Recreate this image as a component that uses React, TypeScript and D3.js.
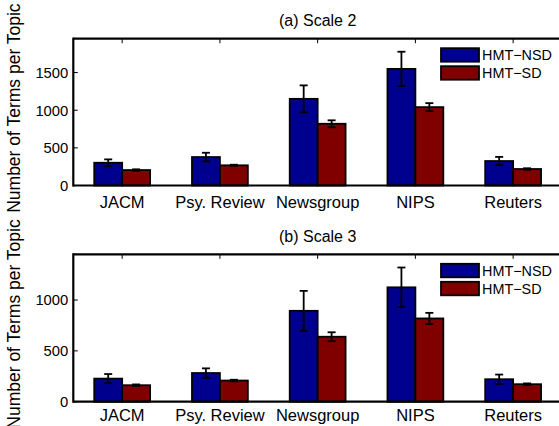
import React, { useEffect } from "react";
import * as d3 from "d3";

const categories = ["JACM", "Psy. Review", "Newsgroup", "NIPS", "Reuters"];
const seriesNames = ["HMT−NSD", "HMT−SD"];
const seriesColors = ["#00008f", "#800000"];

// (a) Scale 2
const scale2Nsd = [302, 378, 1151, 1549, 325];
const scale2NsdErr = [45, 57, 179, 228, 55];
const scale2Sd = [205, 268, 820, 1041, 219];
const scale2SdErr = [10, 8, 46, 53, 10];
const scale2Ticks = [0, 500, 1000, 1500];

// (b) Scale 3
const scale3Nsd = [227, 282, 894, 1125, 221];
const scale3NsdErr = [45, 46, 196, 195, 46];
const scale3Sd = [162, 208, 639, 819, 172];
const scale3SdErr = [8, 8, 44, 55, 8];
const scale3Ticks = [0, 500, 1000];

const FONT = "'Liberation Sans', Arial, Helvetica, sans-serif";
const W = 559;
const H = 426;
const left = 73.3;
const right = 562;

interface PanelProps {
  title: string;
  top: number;
  bottom: number;
  yMax: number;
  ticks: number[];
  values: number[][];
  errors: number[][];
  labelY: number;
  titleY: number;
}

const Panel: React.FC<PanelProps> = ({
  title,
  top,
  bottom,
  yMax,
  ticks,
  values,
  errors,
  labelY,
  titleY,
}) => {
  const x = d3.scaleLinear().domain([0.5, categories.length + 0.5]).range([left, right]);
  const y = d3.scaleLinear().domain([0, yMax]).range([bottom, top]);
  const barW = 2 / 7;
  const tickLen = 4.5;
  const edge = W; // the right border of the axes falls just outside the picture

  return (
    <g>
      <text x={(left + right) / 2} y={titleY} textAnchor="middle" fontSize={16} fontFamily={FONT}>
        {title}
      </text>
      {/* inward ticks */}
      {categories.map((c, i) => (
        <g key={c}>
          <line x1={x(i + 1)} x2={x(i + 1)} y1={bottom} y2={bottom - tickLen} stroke="#000" strokeWidth={1} />
          <line x1={x(i + 1)} x2={x(i + 1)} y1={top} y2={top + tickLen} stroke="#000" strokeWidth={1} />
        </g>
      ))}
      {ticks.map((t) => (
        <g key={t}>
          <line x1={left} x2={left + tickLen} y1={y(t)} y2={y(t)} stroke="#000" strokeWidth={1} />
          <text x={left - 5} y={y(t)} dy="0.36em" textAnchor="end" fontSize={14.8} fontFamily={FONT}>
            {t}
          </text>
        </g>
      ))}
      {values.map((series, s) =>
        series.map((v, i) => {
          const w = barW * (x(1) - x(0));
          const x0 = x(i + 1) + (s - 1) * w;
          const cx = x0 + w / 2;
          const e = errors[s][i];
          return (
            <g key={`${s}-${i}`}>
              <rect x={x0} y={y(v)} width={w} height={y(0) - y(v)} fill={seriesColors[s]} stroke="#000" strokeWidth={1.8} />
              <line x1={cx} x2={cx} y1={y(v + e)} y2={y(v - e)} stroke="#000" strokeWidth={1.8} />
              <line x1={cx - 4} x2={cx + 4} y1={y(v + e)} y2={y(v + e)} stroke="#000" strokeWidth={1.8} />
              <line x1={cx - 4} x2={cx + 4} y1={y(v - e)} y2={y(v - e)} stroke="#000" strokeWidth={1.8} />
            </g>
          );
        })
      )}
      <line x1={left} x2={edge} y1={top} y2={top} stroke="#000" strokeWidth={2.2} />
      <line x1={left} x2={edge} y1={bottom} y2={bottom} stroke="#000" strokeWidth={2.2} />
      <line x1={left} x2={left} y1={top - 1.1} y2={bottom + 1.1} stroke="#000" strokeWidth={2.2} />
      {categories.map((c, i) => (
        <text key={c} x={x(i + 1)} y={labelY} textAnchor="middle" fontSize={16.5} fontFamily={FONT}>
          {c}
        </text>
      ))}
      {/* legend */}
      {seriesNames.map((n, s) => (
        <g key={n}>
          <rect x={441} y={top + 9.5 + s * 18} width={38} height={13.5} fill={seriesColors[s]} stroke="#000" strokeWidth={1.8} />
          <text x={482} y={top + 16.3 + s * 18} dy="0.36em" fontSize={14.4} fontFamily={FONT}>
            {n}
          </text>
        </g>
      ))}
      <text
        transform={`translate(20,${(top + bottom) / 2 - 4}) rotate(-90)`}
        textAnchor="middle"
        fontSize={17.5}
        fontFamily={FONT}
      >
        Number of Terms per Topic
      </text>
    </g>
  );
};

export default function App() {
  useEffect(() => {
    document.documentElement.style.overflow = "hidden";
    document.body.style.margin = "0";
    document.body.style.overflow = "hidden";
  }, []);

  return (
    <svg width={W} height={H} style={{ position: "absolute", left: 0, top: 0, background: "#fff", display: "block" }}>
      <rect width={W} height={H} fill="#fff" />
      <Panel
        title="(a) Scale 2"
        top={38.7}
        bottom={185.5}
        yMax={1950}
        ticks={scale2Ticks}
        values={[scale2Nsd, scale2Sd]}
        errors={[scale2NsdErr, scale2SdErr]}
        labelY={207.5}
        titleY={25.5}
      />
      <Panel
        title="(b) Scale 3"
        top={254.3}
        bottom={401.7}
        yMax={1450}
        ticks={scale3Ticks}
        values={[scale3Nsd, scale3Sd]}
        errors={[scale3NsdErr, scale3SdErr]}
        labelY={420.5}
        titleY={241.7}
      />
    </svg>
  );
}
